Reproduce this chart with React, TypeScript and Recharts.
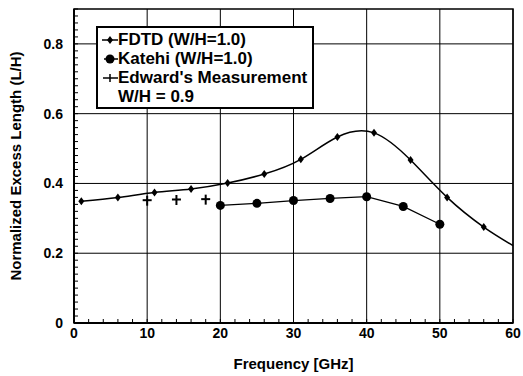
import React from 'react';
import {
  ComposedChart,
  Line,
  Scatter,
  XAxis,
  YAxis,
  CartesianGrid,
  ReferenceArea,
} from 'recharts';

// tick labels
const FREQ_TICKS = [0, 10, 20, 30, 40, 50, 60];
const LEN_TICKS = [0, 0.2, 0.4, 0.6, 0.8];
const FREQ_MINOR = Array.from({ length: 31 }, (_, i) => i * 2);
const LEN_MINOR = Array.from({ length: 46 }, (_, i) => +(i * 0.02).toFixed(2));

// FDTD (W/H=1.0)
const fdtdFreq = [1, 6, 11, 16, 21, 26, 31, 36, 41, 46, 51, 56];
const fdtdLen = [0.349, 0.36, 0.374, 0.384, 0.401, 0.427, 0.469, 0.533, 0.545, 0.467, 0.36, 0.275];
// where the drawn curve runs out at the right edge
const fdtdEndFreq = [60];
const fdtdEndLen = [0.222];

// Katehi (W/H=1.0)
const katehiFreq = [20, 25, 30, 35, 40, 45, 50];
const katehiLen = [0.337, 0.343, 0.351, 0.357, 0.362, 0.334, 0.283];

// Edward's measurement, W/H = 0.9
const edwardFreq = [10, 14, 18];
const edwardLen = [0.352, 0.354, 0.355];

const zip = (f: number[], v: number[]) => f.map((x, i) => ({ f: x, v: v[i] }));

const fdtdPoints = zip(fdtdFreq, fdtdLen);
const fdtdCurve = [...fdtdPoints, ...zip(fdtdEndFreq, fdtdEndLen)];
const katehiPoints = zip(katehiFreq, katehiLen);
const edwardPoints = zip(edwardFreq, edwardLen);

const FONT = '"Liberation Sans", Arial, Helvetica, sans-serif';
const tickStyle = { fontFamily: FONT, fontSize: 14, fontWeight: 700, fill: '#000' };

const isMajor = (v: number, list: number[]) => list.some((t) => Math.abs(t - v) < 1e-6);

// inward minor tick + label on the majors
const FreqTick = (props: any) => {
  const { x, y, payload } = props;
  const v = payload.value;
  return (
    <g>
      <line x1={x} y1={y} x2={x} y2={y - 4} stroke="#000" strokeWidth={1} />
      {isMajor(v, FREQ_TICKS) && (
        <text x={x} y={y + 5} dy="0.71em" textAnchor="middle" {...tickStyle}>
          {v}
        </text>
      )}
    </g>
  );
};

const LenTick = (props: any) => {
  const { x, y, payload } = props;
  const v = payload.value;
  return (
    <g>
      <line x1={x} y1={y} x2={x + 4} y2={y} stroke="#000" strokeWidth={1} />
      {isMajor(v, LEN_TICKS) && (
        <text x={x - 11} y={y} dy="0.355em" textAnchor="end" {...tickStyle}>
          {v === 0 ? '0' : v.toFixed(1)}
        </text>
      )}
    </g>
  );
};

const Diamond = (props: any) => {
  const { cx, cy } = props;
  if (cx == null || cy == null) return null;
  return <path d={`M${cx},${cy - 4} L${cx + 3},${cy} L${cx},${cy + 4} L${cx - 3},${cy} Z`} fill="#000" />;
};

const Plus = (props: any) => {
  const { cx, cy } = props;
  if (cx == null || cy == null) return null;
  return (
    <g stroke="#000" strokeWidth={2}>
      <line x1={cx - 4.5} y1={cy} x2={cx + 4.5} y2={cy} />
      <line x1={cx} y1={cy - 4.5} x2={cx} y2={cy + 5.5} />
    </g>
  );
};

const LegendBox = () => {
  const row: React.CSSProperties = { display: 'flex', alignItems: 'center', height: 19 };
  return (
    <div
      style={{
        position: 'absolute',
        left: 96,
        top: 26,
        width: 214,
        height: 77,
        border: '2px solid #000',
        background: '#fff',
        fontFamily: FONT,
        fontWeight: 700,
        fontSize: 17,
        lineHeight: '19px',
        paddingTop: 2,
        boxSizing: 'content-box',
      }}
    >
      <div style={row}>
        <svg width={20} height={19}>
          <line x1={4} y1={10} x2={20} y2={10} stroke="#000" strokeWidth={1.5} />
          <path d="M12,6 L15,10 L12,14 L9,10 Z" fill="#000" />
        </svg>
        <span>FDTD (W/H=1.0)</span>
      </div>
      <div style={row}>
        <svg width={20} height={19}>
          <line x1={6} y1={10} x2={20} y2={10} stroke="#000" strokeWidth={1.5} />
          <circle cx={12} cy={10} r={4.5} fill="#000" />
        </svg>
        <span>Katehi (W/H=1.0)</span>
      </div>
      <div style={row}>
        <svg width={20} height={19}>
          <line x1={5} y1={10} x2={20} y2={10} stroke="#000" strokeWidth={1.5} />
          <line x1={12} y1={6} x2={12} y2={14} stroke="#000" strokeWidth={1.5} />
        </svg>
        <span>Edward's Measurement</span>
      </div>
      <div style={row}>
        <span style={{ marginLeft: 20 }}>W/H = 0.9</span>
      </div>
    </div>
  );
};

export default function App() {
  return (
    <div style={{ position: 'absolute', left: 0, top: 0, width: 523, height: 376, background: '#fff' }}>
      <ComposedChart width={523} height={376} margin={{ top: 9, right: 10, bottom: 0, left: 0 }}>
        <CartesianGrid stroke="#000" strokeWidth={1} verticalValues={FREQ_TICKS} horizontalValues={LEN_TICKS} />
        <XAxis
          dataKey="f"
          type="number"
          domain={[0, 60]}
          ticks={FREQ_MINOR}
          interval={0}
          tickLine={false}
          tickSize={0}
          tickMargin={0}
          axisLine={{ stroke: '#000', strokeWidth: 2 }}
          tick={<FreqTick />}
          height={53}
          label={() => (
            <text x={293.5} y={369} textAnchor="middle" fontFamily={FONT} fontSize={15} fontWeight={700} fill="#000">
              Frequency [GHz]
            </text>
          )}
        />
        <YAxis
          type="number"
          domain={[0, 0.9]}
          ticks={LEN_MINOR}
          interval={0}
          tickLine={false}
          tickSize={0}
          tickMargin={0}
          axisLine={{ stroke: '#000', strokeWidth: 2 }}
          tick={<LenTick />}
          width={74}
          label={() => (
            <text
              transform="translate(21,166) rotate(-90)"
              textAnchor="middle"
              fontFamily={FONT}
              fontSize={15}
              fontWeight={700}
              fill="#000"
            >
              Normalized Excess Length (L/H)
            </text>
          )}
        />
        <ReferenceArea x1={0} x2={60} y1={0} y2={0.9} fill="none" stroke="#000" strokeWidth={1.5} ifOverflow="visible" />

        <Line
          data={fdtdCurve}
          dataKey="v"
          type="natural"
          stroke="#000"
          strokeWidth={1.5}
          dot={false}
          activeDot={false}
          isAnimationActive={false}
        />
        <Scatter data={fdtdPoints} dataKey="v" shape={Diamond} isAnimationActive={false} />

        <Line
          data={katehiPoints}
          dataKey="v"
          type="linear"
          stroke="#000"
          strokeWidth={1.3}
          dot={{ r: 4.5, fill: '#000', stroke: '#000', strokeWidth: 0 }}
          activeDot={false}
          isAnimationActive={false}
        />

        <Scatter data={edwardPoints} dataKey="v" shape={Plus} isAnimationActive={false} />
      </ComposedChart>
      <LegendBox />
    </div>
  );
}
